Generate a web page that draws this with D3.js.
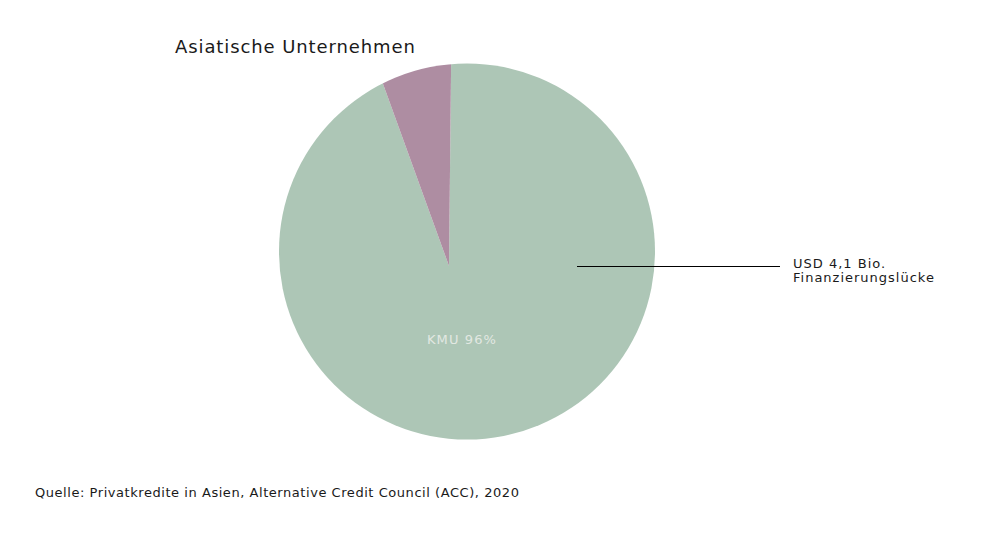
<!DOCTYPE html>
<html>
<head>
<meta charset="utf-8">
<title>Asiatische Unternehmen</title>
<script src="https://d3js.org/d3.v7.min.js"></script>
<style>
body { margin: 0; background: #fff; }
text { font-family: "DejaVu Sans", sans-serif; fill: #1a1a1a; }
</style>
</head>
<body>
<script>
// data
var categories = ["KMU", "Andere"];
var shares = [94.3, 5.7];
var colors = ["#adc6b6", "#ae8da2"];
var sliceLabel = "KMU 96%";
var noteLines = ["USD 4,1 Bio.", "Finanzierungslücke"];
var title = "Asiatische Unternehmen";
var source = "Quelle: Privatkredite in Asien, Alternative Credit Council (ACC), 2020";

var width = 999, height = 535;

var svg = d3.select("body").append("svg")
    .attr("width", width)
    .attr("height", height);

// outline of the pie
var cx = 467, cy = 251.5, r = 188;
// the wedges meet slightly off-centre
var ax = 449, ay = 266;

svg.append("clipPath").attr("id", "disc")
  .append("circle")
    .attr("cx", cx).attr("cy", cy).attr("r", r);

var data = categories.map(function(c, i) { return {name: c, value: shares[i], color: colors[i]}; });

var pie = d3.pie()
    .sort(null)
    .value(function(d) { return d.value; })
    .startAngle(0.6 * Math.PI / 180)
    .endAngle(0.6 * Math.PI / 180 + 2 * Math.PI);

var arc = d3.arc().innerRadius(0).outerRadius(240);

svg.append("g")
    .attr("clip-path", "url(#disc)")
  .append("g")
    .attr("transform", "translate(" + ax + "," + ay + ")")
  .selectAll("path")
    .data(pie(data))
  .enter().append("path")
    .attr("d", arc)
    .attr("fill", function(d) { return d.data.color; });

svg.append("text")
    .attr("x", 462).attr("y", 344)
    .style("text-anchor", "middle")
    .style("font-size", "13px")
    .style("letter-spacing", "1.1px")
    .style("fill", "#e2e8e2")
    .text(sliceLabel);

// annotation
svg.append("line")
    .attr("x1", 577).attr("x2", 780)
    .attr("y1", 266.5).attr("y2", 266.5)
    .attr("stroke", "#000")
    .attr("stroke-width", 1);

svg.append("text")
    .attr("x", 793).attr("y", 268)
    .style("font-size", "13px")
    .style("letter-spacing", "1px")
  .selectAll("tspan")
    .data(noteLines)
  .enter().append("tspan")
    .attr("x", 793)
    .attr("dy", function(d, i) { return i ? 13.5 : 0; })
    .text(function(d) { return d; });

svg.append("text")
    .attr("x", 175).attr("y", 53)
    .style("font-size", "18px")
    .style("letter-spacing", "0.9px")
    .text(title);

svg.append("text")
    .attr("x", 35).attr("y", 497)
    .style("font-size", "13px")
    .style("letter-spacing", "0.55px")
    .text(source);
</script>
</body>
</html>
